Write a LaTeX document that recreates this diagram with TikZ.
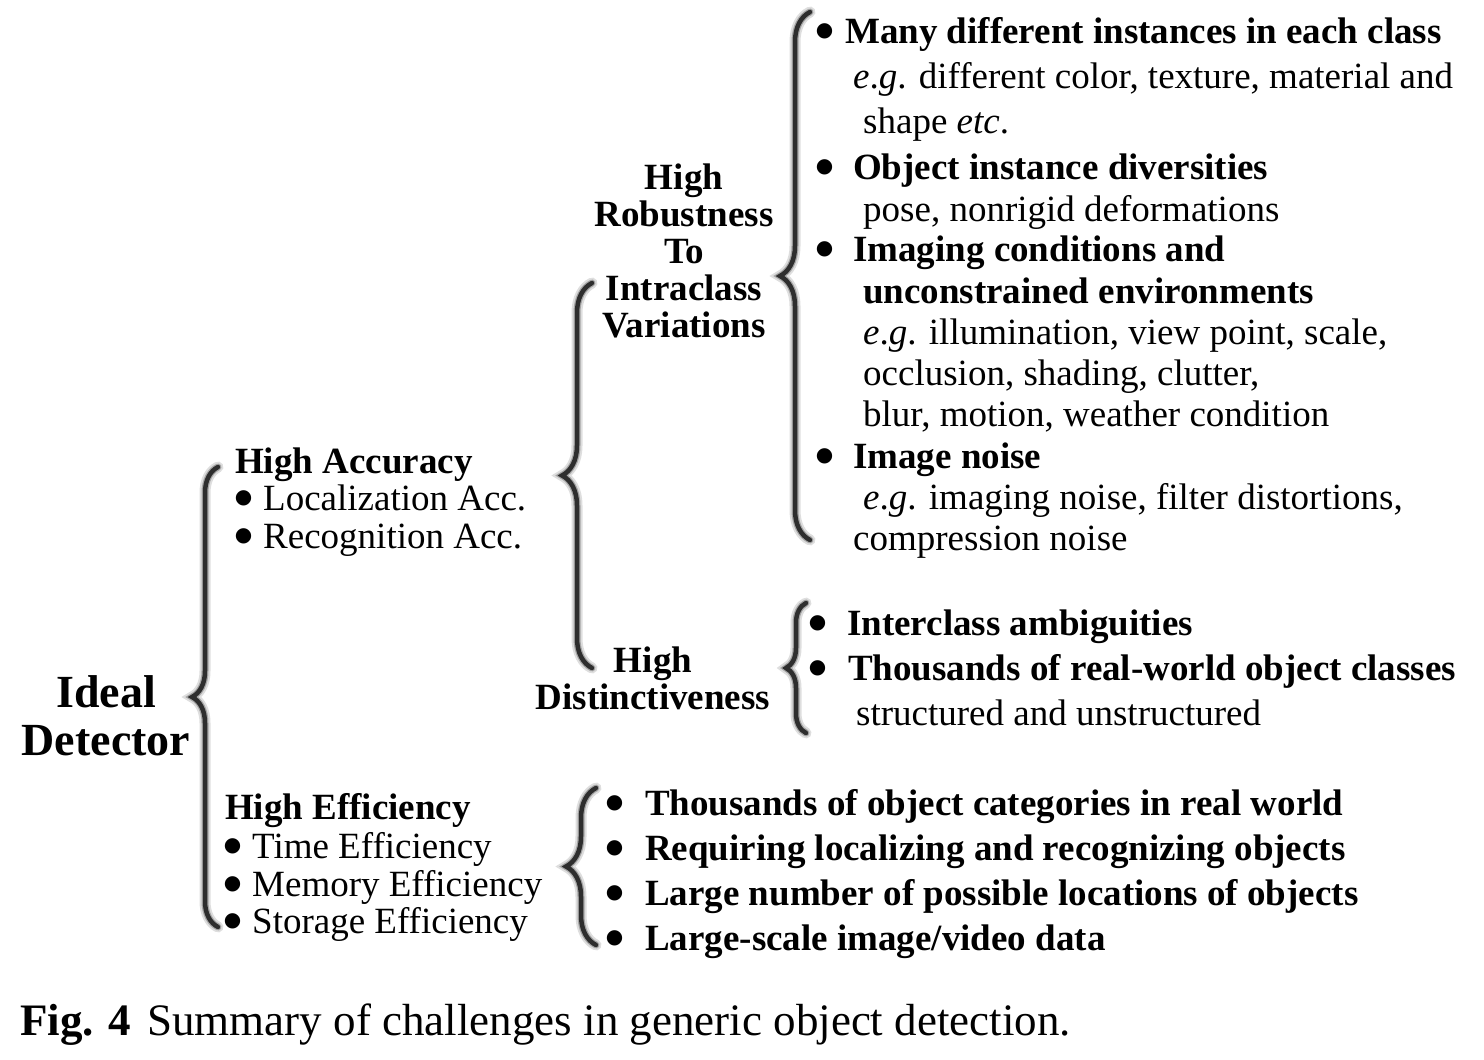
\documentclass[tikz,border=0pt]{standalone}
\usepackage{fontspec}
\setmainfont{Liberation Serif}
\newfontfamily\dotfont{DejaVu Sans}
\usetikzlibrary{decorations.pathreplacing}

\newcommand{\itemdot}[1]{\makebox[13pt][c]{\dotfont\fontsize{20}{20}\selectfont\raisebox{6.5pt}{●}}\hspace{#1pt}}

\begin{document}
\begin{tikzpicture}[x=1pt, y=-1pt,
    txt/.style={anchor=base west, inner sep=0pt, text height=25pt, text depth=7pt,
      font=\fontsize{37}{40}\selectfont},
    ttl/.style={anchor=base, inner sep=0pt, text height=25pt, text depth=7pt,
      font=\fontsize{37}{40}\selectfont\bfseries},
    glow/.style={decorate, line width=11pt, draw=black!13, line cap=round},
    halo/.style={decorate, line width=7pt, draw=black!35, line cap=round},
    brc/.style={decorate, line width=4.5pt, draw=black!82, line cap=round}]
  \useasboundingbox (0,0) rectangle (1484,1060);

  % root
  \node[ttl, text height=31pt, text depth=1pt, font=\fontsize{46}{48}\selectfont\bfseries] (id1) at (106,707) {Ideal};
  \node[ttl, text height=31pt, text depth=1pt, font=\fontsize{46}{48}\selectfont\bfseries] (id2) at (106,755) {Detector};

  % accuracy and efficiency
  \node[txt, font=\fontsize{37}{40}\selectfont\bfseries] (acc) at (235,473) {High Accuracy};
  \node[txt] (acc1) at (237,510) {\itemdot{13}Localization Acc.};
  \node[txt] (acc2) at (237,548) {\itemdot{13}Recognition Acc.};

  \node[txt, font=\fontsize{37}{40}\selectfont\bfseries] (eff) at (225,819) {High Efficiency};
  \node[txt] (eff1) at (226,858) {\itemdot{13}Time Efficiency};
  \node[txt] (eff2) at (226,896) {\itemdot{13}Memory Efficiency};
  \node[txt] (eff3) at (226,933) {\itemdot{13}Storage Efficiency};

  % robustness and distinctiveness
  \foreach \t [count=\i] in {High,Robustness,To,Intraclass,Variations}
    \node[ttl] (rob\i) at (684,{189+37*(\i-1)}) {\t};
  \node[ttl] (dis1) at (653,672) {High};
  \node[ttl] (dis2) at (653,709) {Distinctiveness};

  % intraclass variations
  \foreach \y/\x/\t [count=\i] in {
      43/818/{\itemdot{14}\textbf{Many different instances in each class}},
      88/853/{\textit{e}.\textit{g}. different color, texture, material and},
      133/863/{shape \textit{etc}.},
      179/818/{\itemdot{22}\textbf{Object instance diversities}},
      221/863/{pose, nonrigid deformations},
      261/818/{\itemdot{22}\textbf{Imaging conditions and}},
      303/863/{\textbf{unconstrained environments}},
      344/863/{\textit{e}.\textit{g}. illumination, view point, scale,},
      385/863/{occlusion, shading, clutter,},
      426/863/{blur, motion, weather condition},
      468/818/{\itemdot{22}\textbf{Image noise}},
      509/863/{\textit{e}.\textit{g}. imaging noise, filter distortions,},
      550/853/{compression noise}}
    \node[txt] (r\i) at (\x,\y) {\t};

  % interclass
  \node[txt] (d1) at (811,635) {\itemdot{23}\textbf{Interclass ambiguities}};
  \node[txt] (d2) at (811,680) {\itemdot{24}\textbf{Thousands of real-world object classes}};
  \node[txt] (d3) at (856,725) {structured and unstructured};

  % efficiency challenges
  \foreach \y/\t [count=\i] in {
      815/{Thousands of object categories in real world},
      860/{Requiring localizing and recognizing objects},
      905/{Large number of possible locations of objects},
      950/{Large-scale image/video data}}
    \node[txt] (e\i) at (608,\y) {\itemdot{24}\textbf{\t}};

  % caption
  \node[txt, font=\fontsize{45}{48}\selectfont] (cap) at (20,1035)
    {\textbf{Fig. 4}\hspace{16pt}Summary of challenges in generic object detection.};

  % braces
  \coordinate (s1) at (218,927); \coordinate (t1) at (218,467);
  \coordinate (s2) at (592,668); \coordinate (t2) at (592,283);
  \coordinate (s3) at (810,540); \coordinate (t3) at (810,12);
  \coordinate (s4) at (806,733); \coordinate (t4) at (806,603);
  \coordinate (s5) at (596,945); \coordinate (t5) at (596,788);
  \foreach \n/\a in {1/26,2/30,3/30,4/20,5/30}{
    \draw[glow, decoration={brace, amplitude=\a pt}] (s\n) -- (t\n);
    \draw[halo, decoration={brace, amplitude=\a pt}] (s\n) -- (t\n);
    \draw[brc, decoration={brace, amplitude=\a pt}] (s\n) -- (t\n);
  }
\end{tikzpicture}
\end{document}
